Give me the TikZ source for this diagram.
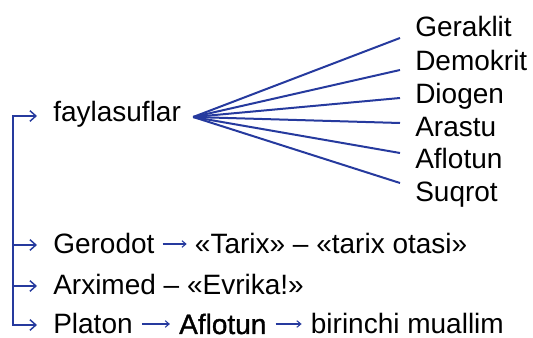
\documentclass[tikz,border=0pt]{standalone}
\usepackage{fontspec}
\setmainfont{Liberation Sans}
\newfontface\heavyface{Liberation Sans}[FakeBold=1.2]
\usepackage{xcolor}
\usetikzlibrary{arrows.meta,positioning,calc}
\definecolor{LineBlue}{RGB}{38,58,158}
\tikzset{
    word/.style={anchor=base west, inner sep=0pt, font=\fontsize{21}{25}\selectfont},
    fanline/.style={draw=LineBlue, line width=1.5pt},
    branch/.style={draw=LineBlue, line width=1.1pt, line join=miter, >={Straight Barb[length=4.5pt,width=8pt]}},
    pointer/.style={draw=LineBlue, line width=0.8pt, -{Straight Barb[length=3pt,width=5pt]}},
}
\begin{document}
\begin{tikzpicture}[x=0.75pt,y=-0.75pt]
\useasboundingbox (0,0) rectangle (533,338);
% left column
\node[word] (fay) at (53,122) {faylasuflar};
\node[word] (gero) at (53,254) {Gerodot};
\node[word] (tarix) at ([shift={(40,0)}]gero.base east) {«Tarix» – «tarix otasi»};
\node[word] (arx) at (53,295) {Arximed – «Evrika!»};
\node[word] (platon) at (53,334) {Platon};
\node[word] (aflo) at ([shift={(46,0)}]platon.base east) {\heavyface Aflotun};
\node[word] (muallim) at ([shift={(44,0)}]aflo.base east) {birinchi muallim};

% philosophers
\node[word] (geraklit) at (415,37) {Geraklit};
\node[word] (demokrit) at (415,71) {Demokrit};
\node[word] (diogen) at (415,104) {Diogen};
\node[word] (arastu) at (415,137) {Arastu};
\node[word] (aflotun) at (415,169) {Aflotun};
\node[word] (suqrot) at (415,202) {Suqrot};

% fan
\coordinate (fan) at ([shift={(12,-5)}]fay.base east);
\foreach \y [count=\i] in {38,70,98,123,153,183}
    \coordinate (tip\i) at (400,\y);
\foreach \i in {1,...,6}
    \draw[fanline] (fan) -- (tip\i);

% trunk and branches
\coordinate (fayin) at ([shift={(-16,-6)}]fay.base west);
\coordinate (geroin) at ([shift={(-16,-9)}]gero.base west);
\coordinate (arxin) at ([shift={(-16,-9)}]arx.base west);
\coordinate (platin) at ([shift={(-16,-9)}]platon.base west);
\coordinate (trunk) at ([shift={(-24,0)}]platin);
\draw[branch,<->] (fayin) -| (trunk) -- (platin);
\draw[branch,->] (trunk |- geroin) -- (geroin);
\draw[branch,->] (trunk |- arxin) -- (arxin);

% inline arrows
\draw[pointer] ([shift={(8,-10)}]gero.base east) -- ([shift={(-8,-10)}]tarix.base west);
\draw[pointer] ([shift={(9,-10)}]platon.base east) -- ([shift={(-9,-10)}]aflo.base west);
\draw[pointer] ([shift={(9,-10)}]aflo.base east) -- ([shift={(-9,-10)}]muallim.base west);
\end{tikzpicture}
\end{document}
